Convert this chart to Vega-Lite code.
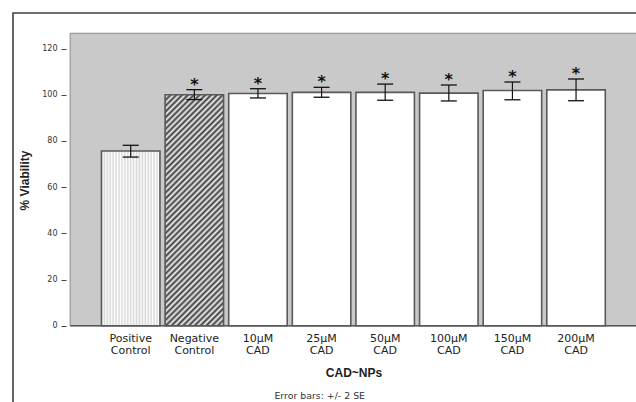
{
  "$schema": "https://vega.github.io/schema/vega-lite/v6.json",
  "autosize": {"type": "none"},
  "padding": {"left": 13, "top": 13, "right": -17, "bottom": -11},
  "width": 640,
  "height": 400,
  "background": "#ffffff",
  "config": {
    "view": {"stroke": "#404040", "strokeWidth": 1.6, "fill": "#ffffff"},
    "font": "DejaVu Sans"
  },
  "data": {
    "values": [
      {"group": "Positive Control", "slot": 1, "mean": 75.6, "lo": 73.0, "hi": 78.1, "sig": ""},
      {"group": "Negative Control", "slot": 2, "mean": 100.0, "lo": 97.9, "hi": 102.2, "sig": "*"},
      {"group": "10µM CAD", "slot": 3, "mean": 100.5, "lo": 98.6, "hi": 102.6, "sig": "*"},
      {"group": "25µM CAD", "slot": 4, "mean": 101.0, "lo": 98.9, "hi": 103.2, "sig": "*"},
      {"group": "50µM CAD", "slot": 5, "mean": 101.0, "lo": 97.6, "hi": 104.6, "sig": "*"},
      {"group": "100µM CAD", "slot": 6, "mean": 100.7, "lo": 97.3, "hi": 104.2, "sig": "*"},
      {"group": "150µM CAD", "slot": 7, "mean": 101.8, "lo": 97.8, "hi": 105.5, "sig": "*"},
      {"group": "200µM CAD", "slot": 8, "mean": 102.1, "lo": 97.4, "hi": 106.8, "sig": "*"}
    ]
  },
  "encoding": {
    "x": {
      "field": "slot",
      "type": "quantitative",
      "scale": {"domain": [-0.7717, 9.131], "nice": false, "zero": false},
      "axis": {
        "labels": false,
        "ticks": false,
        "domain": false,
        "grid": false,
        "title": "CAD~NPs",
        "titleFont": "Liberation Sans",
        "titleFontSize": 12,
        "titleFontWeight": "bold",
        "titleColor": "#222222",
        "titleX": 340.5,
        "titleY": -36.5,
        "titleAlign": "center",
        "titleBaseline": "alphabetic"
      }
    },
    "y": {
      "field": "mean",
      "type": "quantitative",
      "scale": {"domain": [-37.79, 135.37], "nice": false, "zero": false},
      "axis": {
        "values": [0, 20, 40, 60, 80, 100, 120],
        "offset": -53,
        "grid": false,
        "domain": false,
        "tickColor": "#444444",
        "tickSize": 5,
        "tickWidth": 1,
        "labelFont": "DejaVu Sans",
        "labelFontSize": 8,
        "labelColor": "#333333",
        "labelPadding": 4,
        "title": "% Viability",
        "titleFont": "Liberation Sans",
        "titleFontSize": 12,
        "titleFontWeight": "bold",
        "titleColor": "#222222",
        "titleAngle": -90,
        "titleX": -41.5,
        "titleY": 167,
        "titleAlign": "center",
        "titleBaseline": "middle"
      }
    }
  },
  "layer": [
    {
      "transform": [{"filter": "datum.slot === 1"}],
      "mark": {"type": "rect", "fill": "#c9c9c9", "stroke": "#8a8a8a", "strokeWidth": 1},
      "encoding": {
        "x": {"datum": 0.048, "type": "quantitative"},
        "x2": {"datum": 9.6},
        "y": {"datum": 0, "type": "quantitative"},
        "y2": {"datum": 126.6}
      }
    },
    {
      "transform": [{"filter": "datum.slot === 1"}],
      "mark": {"type": "rule", "stroke": "#555555", "strokeWidth": 1.4},
      "encoding": {
        "x": {"datum": 0.048, "type": "quantitative"},
        "x2": {"datum": 9.6},
        "y": {"datum": 0, "type": "quantitative"}
      }
    },
    {
      "mark": {"type": "bar", "orient": "vertical", "width": 58.5, "stroke": "#595959", "strokeWidth": 1.6},
      "encoding": {
        "y2": {"datum": 0},
        "fill": {
          "condition": [
            {
              "test": "datum.group === 'Positive Control'",
              "value": {
                "gradient": "linear", "x1": 0, "y1": 0, "x2": 1, "y2": 0,
                "stops": [
                  {"offset": 0.0, "color": "#d6d6d6"}, {"offset": 0.025, "color": "#ffffff"},
                  {"offset": 0.05, "color": "#d6d6d6"}, {"offset": 0.075, "color": "#ffffff"},
                  {"offset": 0.1, "color": "#d6d6d6"}, {"offset": 0.125, "color": "#ffffff"},
                  {"offset": 0.15, "color": "#d6d6d6"}, {"offset": 0.175, "color": "#ffffff"},
                  {"offset": 0.2, "color": "#d6d6d6"}, {"offset": 0.225, "color": "#ffffff"},
                  {"offset": 0.25, "color": "#d6d6d6"}, {"offset": 0.275, "color": "#ffffff"},
                  {"offset": 0.3, "color": "#d6d6d6"}, {"offset": 0.325, "color": "#ffffff"},
                  {"offset": 0.35, "color": "#d6d6d6"}, {"offset": 0.375, "color": "#ffffff"},
                  {"offset": 0.4, "color": "#d6d6d6"}, {"offset": 0.425, "color": "#ffffff"},
                  {"offset": 0.45, "color": "#d6d6d6"}, {"offset": 0.475, "color": "#ffffff"},
                  {"offset": 0.5, "color": "#d6d6d6"}, {"offset": 0.525, "color": "#ffffff"},
                  {"offset": 0.55, "color": "#d6d6d6"}, {"offset": 0.575, "color": "#ffffff"},
                  {"offset": 0.6, "color": "#d6d6d6"}, {"offset": 0.625, "color": "#ffffff"},
                  {"offset": 0.65, "color": "#d6d6d6"}, {"offset": 0.675, "color": "#ffffff"},
                  {"offset": 0.7, "color": "#d6d6d6"}, {"offset": 0.725, "color": "#ffffff"},
                  {"offset": 0.75, "color": "#d6d6d6"}, {"offset": 0.775, "color": "#ffffff"},
                  {"offset": 0.8, "color": "#d6d6d6"}, {"offset": 0.825, "color": "#ffffff"},
                  {"offset": 0.85, "color": "#d6d6d6"}, {"offset": 0.875, "color": "#ffffff"},
                  {"offset": 0.9, "color": "#d6d6d6"}, {"offset": 0.925, "color": "#ffffff"},
                  {"offset": 0.95, "color": "#d6d6d6"}, {"offset": 0.975, "color": "#ffffff"},
                  {"offset": 1.0, "color": "#d6d6d6"}
                ]
              }
            },
            {
              "test": "datum.group === 'Negative Control'",
              "value": {
                "gradient": "linear", "x1": 0, "y1": 0, "x2": 0.2982, "y2": 1.1777,
                "stops": [
                  {"offset": 0.00, "color": "#3a3a3a"}, {"offset": 0.01, "color": "#f2f2f2"},
                  {"offset": 0.02, "color": "#3a3a3a"}, {"offset": 0.03, "color": "#f2f2f2"},
                  {"offset": 0.04, "color": "#3a3a3a"}, {"offset": 0.05, "color": "#f2f2f2"},
                  {"offset": 0.06, "color": "#3a3a3a"}, {"offset": 0.07, "color": "#f2f2f2"},
                  {"offset": 0.08, "color": "#3a3a3a"}, {"offset": 0.09, "color": "#f2f2f2"},
                  {"offset": 0.10, "color": "#3a3a3a"}, {"offset": 0.11, "color": "#f2f2f2"},
                  {"offset": 0.12, "color": "#3a3a3a"}, {"offset": 0.13, "color": "#f2f2f2"},
                  {"offset": 0.14, "color": "#3a3a3a"}, {"offset": 0.15, "color": "#f2f2f2"},
                  {"offset": 0.16, "color": "#3a3a3a"}, {"offset": 0.17, "color": "#f2f2f2"},
                  {"offset": 0.18, "color": "#3a3a3a"}, {"offset": 0.19, "color": "#f2f2f2"},
                  {"offset": 0.20, "color": "#3a3a3a"}, {"offset": 0.21, "color": "#f2f2f2"},
                  {"offset": 0.22, "color": "#3a3a3a"}, {"offset": 0.23, "color": "#f2f2f2"},
                  {"offset": 0.24, "color": "#3a3a3a"}, {"offset": 0.25, "color": "#f2f2f2"},
                  {"offset": 0.26, "color": "#3a3a3a"}, {"offset": 0.27, "color": "#f2f2f2"},
                  {"offset": 0.28, "color": "#3a3a3a"}, {"offset": 0.29, "color": "#f2f2f2"},
                  {"offset": 0.30, "color": "#3a3a3a"}, {"offset": 0.31, "color": "#f2f2f2"},
                  {"offset": 0.32, "color": "#3a3a3a"}, {"offset": 0.33, "color": "#f2f2f2"},
                  {"offset": 0.34, "color": "#3a3a3a"}, {"offset": 0.35, "color": "#f2f2f2"},
                  {"offset": 0.36, "color": "#3a3a3a"}, {"offset": 0.37, "color": "#f2f2f2"},
                  {"offset": 0.38, "color": "#3a3a3a"}, {"offset": 0.39, "color": "#f2f2f2"},
                  {"offset": 0.40, "color": "#3a3a3a"}, {"offset": 0.41, "color": "#f2f2f2"},
                  {"offset": 0.42, "color": "#3a3a3a"}, {"offset": 0.43, "color": "#f2f2f2"},
                  {"offset": 0.44, "color": "#3a3a3a"}, {"offset": 0.45, "color": "#f2f2f2"},
                  {"offset": 0.46, "color": "#3a3a3a"}, {"offset": 0.47, "color": "#f2f2f2"},
                  {"offset": 0.48, "color": "#3a3a3a"}, {"offset": 0.49, "color": "#f2f2f2"},
                  {"offset": 0.50, "color": "#3a3a3a"}, {"offset": 0.51, "color": "#f2f2f2"},
                  {"offset": 0.52, "color": "#3a3a3a"}, {"offset": 0.53, "color": "#f2f2f2"},
                  {"offset": 0.54, "color": "#3a3a3a"}, {"offset": 0.55, "color": "#f2f2f2"},
                  {"offset": 0.56, "color": "#3a3a3a"}, {"offset": 0.57, "color": "#f2f2f2"},
                  {"offset": 0.58, "color": "#3a3a3a"}, {"offset": 0.59, "color": "#f2f2f2"},
                  {"offset": 0.60, "color": "#3a3a3a"}, {"offset": 0.61, "color": "#f2f2f2"},
                  {"offset": 0.62, "color": "#3a3a3a"}, {"offset": 0.63, "color": "#f2f2f2"},
                  {"offset": 0.64, "color": "#3a3a3a"}, {"offset": 0.65, "color": "#f2f2f2"},
                  {"offset": 0.66, "color": "#3a3a3a"}, {"offset": 0.67, "color": "#f2f2f2"},
                  {"offset": 0.68, "color": "#3a3a3a"}, {"offset": 0.69, "color": "#f2f2f2"},
                  {"offset": 0.70, "color": "#3a3a3a"}, {"offset": 0.71, "color": "#f2f2f2"},
                  {"offset": 0.72, "color": "#3a3a3a"}, {"offset": 0.73, "color": "#f2f2f2"},
                  {"offset": 0.74, "color": "#3a3a3a"}, {"offset": 0.75, "color": "#f2f2f2"},
                  {"offset": 0.76, "color": "#3a3a3a"}, {"offset": 0.77, "color": "#f2f2f2"},
                  {"offset": 0.78, "color": "#3a3a3a"}, {"offset": 0.79, "color": "#f2f2f2"},
                  {"offset": 0.80, "color": "#3a3a3a"}, {"offset": 0.81, "color": "#f2f2f2"},
                  {"offset": 0.82, "color": "#3a3a3a"}, {"offset": 0.83, "color": "#f2f2f2"},
                  {"offset": 0.84, "color": "#3a3a3a"}, {"offset": 0.85, "color": "#f2f2f2"},
                  {"offset": 0.86, "color": "#3a3a3a"}, {"offset": 0.87, "color": "#f2f2f2"},
                  {"offset": 0.88, "color": "#3a3a3a"}, {"offset": 0.89, "color": "#f2f2f2"},
                  {"offset": 0.90, "color": "#3a3a3a"}, {"offset": 0.91, "color": "#f2f2f2"},
                  {"offset": 0.92, "color": "#3a3a3a"}, {"offset": 0.93, "color": "#f2f2f2"},
                  {"offset": 0.94, "color": "#3a3a3a"}, {"offset": 0.95, "color": "#f2f2f2"},
                  {"offset": 0.96, "color": "#3a3a3a"}, {"offset": 0.97, "color": "#f2f2f2"},
                  {"offset": 0.98, "color": "#3a3a3a"}, {"offset": 0.99, "color": "#f2f2f2"},
                  {"offset": 1.00, "color": "#3a3a3a"}
                ]
              }
            }
          ],
          "value": "#ffffff"
        }
      }
    },
    {
      "mark": {"type": "rule", "stroke": "#111111", "strokeWidth": 1.2},
      "encoding": {
        "y": {"field": "lo", "type": "quantitative"},
        "y2": {"field": "hi"}
      }
    },
    {
      "mark": {"type": "tick", "orient": "horizontal", "size": 16, "thickness": 1.3, "color": "#111111", "opacity": 1},
      "encoding": {"y": {"field": "hi", "type": "quantitative"}}
    },
    {
      "mark": {"type": "tick", "orient": "horizontal", "size": 16, "thickness": 1.3, "color": "#111111", "opacity": 1},
      "encoding": {"y": {"field": "lo", "type": "quantitative"}}
    },
    {
      "mark": {"type": "text", "font": "DejaVu Sans", "fontSize": 16, "fontWeight": "bold", "color": "#111111", "align": "center", "baseline": "alphabetic", "dy": 0},
      "encoding": {
        "y": {"field": "hi", "type": "quantitative"},
        "text": {"field": "sig"}
      }
    },
    {
      "mark": {"type": "text", "font": "DejaVu Sans", "fontSize": 11, "color": "#222222", "align": "center", "baseline": "alphabetic", "lineBreak": " ", "lineHeight": 12, "dy": 15.8},
      "encoding": {
        "y": {"datum": 0, "type": "quantitative"},
        "text": {"field": "group"}
      }
    },
    {
      "transform": [{"filter": "datum.slot === 1"}],
      "mark": {"type": "text", "font": "DejaVu Sans", "fontSize": 9.4, "color": "#333333", "align": "center", "baseline": "alphabetic"},
      "encoding": {
        "x": {"datum": 3.971, "type": "quantitative"},
        "y": {"datum": -31.7, "type": "quantitative"},
        "text": {"value": "Error bars: +/- 2 SE"}
      }
    }
  ]
}
